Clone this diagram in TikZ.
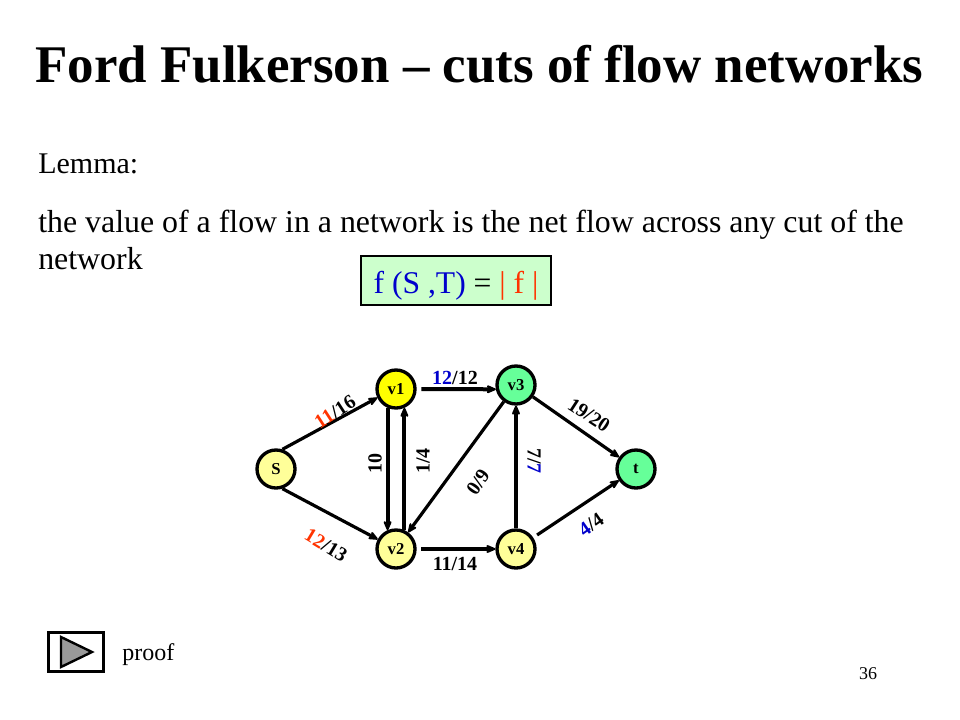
\documentclass[tikz,border=0pt]{standalone}
\usepackage{fontspec}
\setmainfont{Liberation Serif}
\usetikzlibrary{arrows.meta}
\definecolor{redo}{HTML}{FF3300}
\definecolor{blueo}{HTML}{0000CC}
\definecolor{lyel}{HTML}{FFFF99}
\definecolor{yel}{HTML}{FFFF00}
\definecolor{grn}{HTML}{66FF99}
\definecolor{lgrn}{HTML}{CCFFCC}
\definecolor{grayp}{HTML}{999999}
\newcommand{\rd}[1]{\textcolor{redo}{#1}}
\newcommand{\bl}[1]{\textcolor{blueo}{#1}}
\tikzset{
 x=0.75pt,y=-0.75pt,
 vertex/.style={circle,draw=black,line width=2.5pt,minimum size=28.5pt,inner sep=0pt,font=\fontsize{12.5}{14}\selectfont\bfseries},
 conn/.style={draw=black,line width=2.4pt,-{Stealth[length=10pt,width=8.5pt,inset=4pt,round]}},
 conna/.style={conn,line width=3pt},
 lab/.style={inner sep=0pt,font=\fontsize{15}{18}\selectfont\bfseries},
 body/.style={inner sep=0pt,anchor=base west,font=\fontsize{23.9}{28}\selectfont}
}
\begin{document}
\begin{tikzpicture}
\useasboundingbox (0,0) rectangle (960,720);
\fill[white] (0,0) rectangle (960,720);
\node[inner sep=0pt,anchor=base,font=\fontsize{39.7}{46}\selectfont\bfseries] (title) at (479.5,83) {Ford Fulkerson – cuts of flow networks};
\node[body,font=\fontsize{22.5}{28}\selectfont] (lemma) at (38,174) {Lemma:};
\node[body] (l1) at (38,233) {the value of a flow in a network is the net flow across any cut of the};
\node[body] (l2) at (38,270) {network};
\node[draw=black,line width=1.6pt,fill=lgrn,minimum width=143pt,minimum height=36.5pt,inner sep=0pt,text height=20pt,text depth=1.2pt,font=\fontsize{23.7}{28}\selectfont] (formula) at (456,280.5) {\textcolor{blueo}{f (S ,T)} = \rd{| f |}};
\node[vertex,fill=lyel] (S) at (276,469) {S};
\node[vertex,fill=yel] (v1) at (396,389) {v1};
\node[vertex,fill=lyel] (v2) at (396,549) {v2};
\node[vertex,fill=grn] (v3) at (516,385) {v3};
\node[vertex,fill=lyel] (v4) at (516,549) {v4};
\node[vertex,fill=grn] (t) at (636,469) {t};
\draw[conn] (S.72) -- (v1.205);
\draw[conn] (S.-72) -- (v2.152);
\draw[conna] (v1.246) -- (v2.114);
\draw[conna] (v2.66) -- (v1.294);
\draw[conna,shorten <=3.5pt] (v1.east) -- (v3.192);
\draw[conna,shorten <=3.5pt] (v2.east) -- (v4.west);
\draw[conn] (v3) -- (v2);
\draw[conna] (v4) -- (v3);
\draw[conn] (v3) -- (t);
\draw[conn,shorten <=3.5pt] (v4) -- (t);
\node[lab,rotate=33] (e1) at (335,412) {\rd{11}/16};
\node[lab,rotate=-31] (e2) at (326,545) {\rd{12}/13};
\node[lab,rotate=90] (e3) at (375,463) {10};
\node[lab,rotate=90] (e4) at (423,461) {1/4};
\node[lab] (e5) at (455,378) {\bl{12}/12};
\node[lab] (e6) at (455,564) {11/14};
\node[lab,rotate=55] (e7) at (478,482) {0/9};
\node[lab,rotate=-90] (e8) at (534,461) {7/\bl{7}};
\node[lab,rotate=-33] (e9) at (589,415) {19/20};
\node[lab,rotate=35] (e10) at (591,525) {\bl{4}/4};
\node[draw=black,line width=1.8pt,minimum width=41pt,minimum height=29pt,inner sep=0pt] (btn) at (76,652) {};
\draw[draw=black,line width=1.8pt,fill=grayp] (61,637) -- (92,652) -- (61,667) -- cycle;
\node[inner sep=0pt,anchor=base west,font=\fontsize{18}{21}\selectfont] (proof) at (122,660) {proof};
\node[inner sep=0pt,anchor=base,font=\fontsize{13.5}{16}\selectfont] (num) at (868,679) {36};
\end{tikzpicture}
\end{document}
